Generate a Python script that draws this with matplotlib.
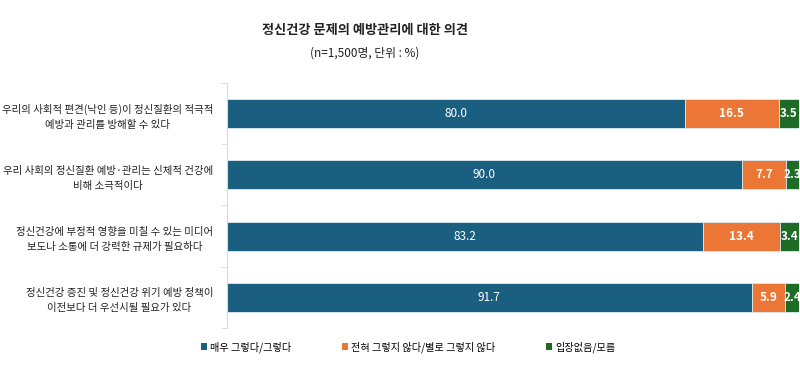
import numpy as np
import matplotlib.pyplot as plt
from matplotlib.patches import Patch

plt.rcParams['font.family'] = ['Noto Sans CJK KR', 'DejaVu Sans']

categories = [
    '우리의 사회적 편견(낙인 등)이 정신질환의 적극적\n예방과 관리를 방해할 수 있다',
    '우리 사회의 정신질환 예방·관리는 신체적 건강에\n비해 소극적이다',
    '정신건강에 부정적 영향을 미칠 수 있는 미디어\n보도나 소통에 더 강력한 규제가 필요하다',
    '정신건강 증진 및 정신건강 위기 예방 정책이\n이전보다 더 우선시될 필요가 있다',
]
agree = [80.0, 90.0, 83.2, 91.7]
disagree = [16.5, 7.7, 13.4, 5.9]
unknown = [3.5, 2.3, 3.4, 2.4]
series_names = ['매우 그렇다/그렇다', '전혀 그렇지 않다/별로 그렇지 않다', '입장없음/모름']

colors = ['#1A5E80', '#EB7636', '#1D6B24']

fig = plt.figure(figsize=(8, 3.71), dpi=100)
ax = fig.add_axes([0.28375, 0.116, 0.715, 0.661])

y = np.arange(len(categories))
h = 0.473
left = np.zeros(len(categories))
for vals, col, bold in zip([agree, disagree, unknown], colors, [False, True, True]):
    ax.barh(y, vals, left=left, height=h, color=col,
            edgecolor='#DDEAF0', linewidth=0.6)
    for yi, v, l in zip(y, vals, left):
        ax.text(l + v / 2, yi, f'{v:.1f}', ha='center', va='center',
                color='white', fontsize=8.5,
                fontweight='bold' if bold else 'normal')
    left = left + np.array(vals)

ax.set_xlim(0, 100)
ax.set_ylim(len(categories) - 0.5, -0.5)
ax.set_yticks(y)
ax.set_yticklabels(categories, fontsize=7.5, multialignment='center',
                   linespacing=1.6, color='#222222')
ax.tick_params(axis='y', length=0, pad=10)
ax.set_yticks(np.arange(len(categories) + 1) - 0.5, minor=True)
ax.tick_params(axis='y', which='minor', length=4, color='#D9D9D9')
ax.set_xticks([])
for s in ['top', 'right', 'bottom']:
    ax.spines[s].set_visible(False)
ax.spines['left'].set_color('#D9D9D9')

fig.text(0.456, 0.918, '정신건강 문제의 예방관리에 대한 의견', ha='center', va='center',
         fontsize=9.5, fontweight='bold', color='#222222')
fig.text(0.456, 0.858, '(n=1,500명, 단위 : %)', ha='center', va='center',
         fontsize=8.5, color='#222222')

handles = [Patch(facecolor=c, edgecolor='none') for c in colors]
fig.legend(handles, series_names, loc='center', bbox_to_anchor=(0.51, 0.065),
           ncol=3, frameon=False, fontsize=7.3, handlelength=0.6, handleheight=0.6,
           handletextpad=0.3, columnspacing=5.0)

fig.savefig('out.png', dpi=100)
